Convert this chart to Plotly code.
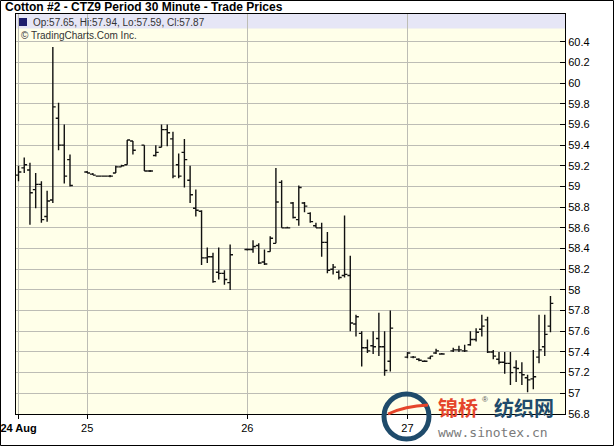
import plotly.graph_objects as go

# ---------------- data ----------------
bar_index = [0, 1, 2, 3, 4, 5, 6, 7, 8, 9,
             12, 13, 14, 15, 16, 17, 18, 19, 20, 22, 23, 24, 25, 26, 27, 28, 29, 30, 31, 32, 33, 34, 35, 36, 37,
             40, 41, 42, 43, 44, 45, 46, 47, 48, 49, 50, 51, 52, 53, 54, 55, 56, 57, 58, 59, 60, 61, 62, 63, 64, 65,
             68, 69, 70, 71, 72, 73, 74, 76, 77, 78, 79, 80, 81, 82, 83, 84, 85, 86, 87, 88, 89, 90, 91, 92, 93]
opens = [59.11, 59.18, 59.16, 58.97, 59.02, 58.71, 58.87, 59.66, 59.40, 59.26,
         59.14, 59.12, 59.10, 59.10, 59.10, 59.13, 59.19, 59.21, 59.44, 59.40, 59.15, 59.30, 59.38, 59.55, 59.46, 59.21, 59.33, 59.06, 58.79, 58.76, 58.31, 58.32, 58.17, 58.16, 58.07,
         58.39, 58.39, 58.43, 58.27, 58.37, 58.45, 59.04, 58.60, 58.84, 58.68, 58.84, 58.74, 58.62, 58.60, 58.46, 58.20, 58.17, 58.14, 58.14, 57.67, 57.58, 57.44, 57.46, 57.53, 57.45, 57.31,
         57.35, 57.35, 57.33, 57.31, 57.34, 57.39, 57.38, 57.41, 57.42, 57.41, 57.47, 57.52, 57.62, 57.71, 57.40, 57.33, 57.30, 57.29, 57.25, 57.20, 57.15, 57.14, 57.35, 57.45, 57.65]
highs = [59.20, 59.28, 59.23, 59.13, 59.05, 58.96, 60.35, 59.81, 59.60, 59.31,
         59.15, 59.13, 59.10, 59.10, 59.11, 59.20, 59.21, 59.45, 59.44, 59.40, 59.16, 59.40, 59.60, 59.60, 59.53, 59.32, 59.46, 59.20, 58.97, 58.77, 58.41, 58.36, 58.41, 58.19, 58.44,
         58.40, 58.48, 58.45, 58.39, 58.52, 59.18, 59.06, 58.61, 58.85, 59.01, 58.85, 58.75, 58.65, 58.65, 58.56, 58.25, 58.19, 58.72, 58.33, 57.76, 57.60, 57.52, 57.60, 57.78, 57.60, 57.80,
         57.40, 57.36, 57.34, 57.32, 57.36, 57.43, 57.39, 57.44, 57.46, 57.47, 57.60, 57.63, 57.76, 57.74, 57.42, 57.40, 57.40, 57.40, 57.32, 57.30, 57.18, 57.42, 57.76, 57.76, 57.94]
lows = [59.05, 59.13, 58.63, 58.79, 58.65, 58.66, 58.84, 59.35, 59.03, 59.00,
        59.13, 59.11, 59.10, 59.10, 59.09, 59.13, 59.19, 59.21, 59.31, 59.15, 59.14, 59.29, 59.38, 59.39, 59.08, 59.08, 58.99, 58.84, 58.71, 58.24, 58.26, 58.07, 58.10, 58.05, 58.00,
        58.38, 58.36, 58.25, 58.24, 58.37, 58.45, 58.60, 58.60, 58.69, 58.62, 58.75, 58.65, 58.60, 58.32, 58.16, 58.15, 58.10, 58.12, 57.60, 57.55, 57.26, 57.39, 57.38, 57.36, 57.17, 57.21,
        57.34, 57.34, 57.31, 57.31, 57.33, 57.38, 57.38, 57.40, 57.40, 57.40, 57.46, 57.50, 57.55, 57.39, 57.33, 57.28, 57.19, 57.08, 57.11, 57.08, 57.01, 57.04, 57.29, 57.36, 57.59]
closes = [59.14, 59.21, 58.94, 59.02, 58.68, 58.86, 59.77, 59.40, 59.10, 59.01,
          59.13, 59.11, 59.10, 59.10, 59.10, 59.19, 59.20, 59.45, 59.35, 59.15, 59.15, 59.33, 59.55, 59.52, 59.10, 59.10, 59.26, 58.92, 58.77, 58.31, 58.32, 58.08, 58.16, 58.10, 58.34,
          58.39, 58.42, 58.26, 58.25, 58.50, 58.85, 58.60, 58.60, 58.70, 58.99, 58.81, 58.66, 58.60, 58.46, 58.19, 58.22, 58.12, 58.15, 57.68, 57.74, 57.44, 57.41, 57.45, 57.45, 57.22, 57.63,
          57.39, 57.35, 57.32, 57.31, 57.36, 57.41, 57.38, 57.42, 57.42, 57.41, 57.52, 57.59, 57.65, 57.40, 57.36, 57.30, 57.29, 57.20, 57.24, 57.18, 57.13, 57.16, 57.42, 57.57, 57.87]

day_tick_index = [0, 12, 40, 68]
day_tick_labels = ["<b>24 Aug</b>", "25", "26", "27"]

price_ticks = [56.8, 57.0, 57.2, 57.4, 57.6, 57.8, 58.0, 58.2, 58.4, 58.6,
               58.8, 59.0, 59.2, 59.4, 59.6, 59.8, 60.0, 60.2, 60.4]
price_tick_labels = ["56.8", "57", "57.2", "57.4", "57.6", "57.8", "58", "58.2", "58.4", "58.6",
                     "58.8", "59", "59.2", "59.4", "59.6", "59.8", "60", "60.2", "60.4"]

title_text = "Cotton #2 - CTZ9 Period 30 Minute - Trade Prices"
legend_text = "Op:57.65, Hi:57.94, Lo:57.59, Cl:57.87"
copyright_text = "© TradingCharts.Com Inc."

# ---------------- layout geometry ----------------
W, H = 614, 446
L, R, T, B = 16, 49, 14, 32
PW, PH = W - L - R, H - T - B


def px(x):
    return (x - L) / PW


def py(y):
    return (H - B - y) / PH


FONT = "Liberation Sans, Arial, sans-serif"

fig = go.Figure()
fig.add_trace(go.Ohlc(
    x=bar_index, open=opens, high=highs, low=lows, close=closes,
    increasing=dict(line=dict(color="#111111", width=1.4)),
    decreasing=dict(line=dict(color="#111111", width=1.4)),
    tickwidth=0.5, hoverinfo="skip", showlegend=False,
))

shapes = [
    # top info band
    dict(type="rect", xref="paper", yref="paper", x0=0, x1=1, y0=py(28.5), y1=1,
         fillcolor="#E6E6F6", line=dict(width=0), layer="below"),
    # navy legend square
    dict(type="rect", xref="paper", yref="paper", x0=px(19), x1=px(27), y0=py(26), y1=py(18),
         fillcolor="#1E1E6E", line=dict(width=0)),
    # outer frame of the image
    dict(type="rect", xref="paper", yref="paper", x0=px(0.5), x1=px(613.5), y0=py(445.5), y1=py(0.5),
         line=dict(color="black", width=1), fillcolor="rgba(0,0,0,0)"),
    # watermark ring
    dict(type="circle", xref="paper", yref="paper", x0=px(384), x1=px(429), y0=py(439), y1=py(394),
         line=dict(color="#1F4B6B", width=5), fillcolor="rgba(0,0,0,0)"),
    dict(type="path", xref="paper", yref="paper",
         path=f"M {px(388)} {py(414)} Q {px(405)} {py(406)} {px(428)} {py(405)}",
         line=dict(color="#E5452B", width=3)),
]

annotations = [
    dict(text=f"<b>{title_text}</b>", xref="paper", yref="paper", x=px(3), y=py(7.5),
         xanchor="left", yanchor="middle", showarrow=False,
         font=dict(family=FONT, size=12, color="black")),
    dict(text=legend_text, xref="paper", yref="paper", x=px(31), y=py(22),
         xanchor="left", yanchor="middle", showarrow=False,
         font=dict(family=FONT, size=10, color="#333333")),
    dict(text=copyright_text, xref="paper", yref="paper", x=px(19), y=py(35),
         xanchor="left", yanchor="middle", showarrow=False,
         font=dict(family=FONT, size=10, color="#333333")),
    dict(text="<b>锦桥</b>", xref="paper", yref="paper", x=px(436), y=py(407),
         xanchor="left", yanchor="middle", showarrow=False,
         font=dict(family="Noto Sans CJK SC", size=20, color="#E5452B")),
    dict(text="®", xref="paper", yref="paper", x=px(480), y=py(399),
         xanchor="left", yanchor="middle", showarrow=False,
         font=dict(family=FONT, size=8, color="#555555")),
    dict(text="<b>纺织网</b>", xref="paper", yref="paper", x=px(492), y=py(407),
         xanchor="left", yanchor="middle", showarrow=False,
         font=dict(family="Noto Sans CJK SC", size=20, color="#1F4B6B")),
    dict(text="www.sinotex.cn", xref="paper", yref="paper", x=px(436), y=py(432),
         xanchor="left", yanchor="middle", showarrow=False,
         font=dict(family="DejaVu Sans Mono", size=13, color="#7A7A7A")),
]

fig.update_layout(
    width=W, height=H,
    margin=dict(l=L, r=R, t=T, b=B, pad=0, autoexpand=False),
    paper_bgcolor="white", plot_bgcolor="#FFFFE9",
    shapes=shapes, annotations=annotations,
    showlegend=False,
)

fig.update_xaxes(
    range=[-0.44, 95.54], rangeslider=dict(visible=False),
    tickmode="array", tickvals=day_tick_index, ticktext=day_tick_labels,
    showgrid=True, gridcolor="#BDBDB5", gridwidth=1,
    showline=True, linecolor="black", linewidth=1, mirror=True,
    ticks="outside", ticklen=4, tickcolor="black",
    tickfont=dict(family=FONT, size=11, color="black"),
    zeroline=False, fixedrange=True, automargin=False,
)
fig.update_yaxes(
    range=[56.8, 60.668], side="right",
    tickmode="array", tickvals=price_ticks, ticktext=price_tick_labels,
    showgrid=True, gridcolor="#BDBDB5", gridwidth=1,
    showline=True, linecolor="black", linewidth=1, mirror=True,
    ticks="inside", ticklen=5, tickcolor="black",
    tickfont=dict(family=FONT, size=11, color="black"),
    zeroline=False, fixedrange=True, automargin=False,
)

fig.write_html(
    "out.html",
    config={"displayModeBar": False, "staticPlot": True},
    post_script="document.body.style.margin='0';document.body.style.overflow='hidden';",
)
